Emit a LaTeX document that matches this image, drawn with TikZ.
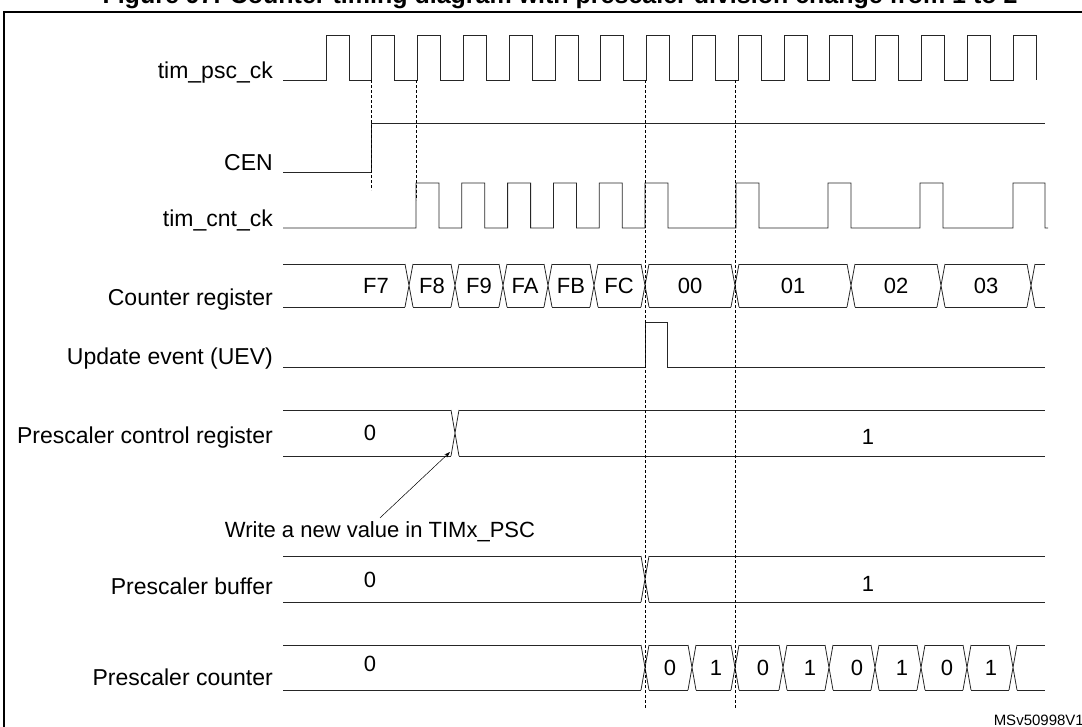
\documentclass[tikz,border=0pt]{standalone}
\usepackage{fontspec}
\setmainfont{Liberation Sans}
\usetikzlibrary{arrows.meta}
\begin{document}
\begin{tikzpicture}[x=1pt,y=-1pt,
  sig/.style={line width=0.8pt,draw=black!85},
  dsh/.style={densely dashed,line width=0.6pt},
  lab/.style={anchor=east,font=\fontsize{23}{26}\selectfont,inner sep=0pt},
  val/.style={font=\fontsize{22}{24}\selectfont,inner sep=0pt}]
\useasboundingbox (0,0) rectangle (1082,726);
\clip (0,0) rectangle (1082,726);
\node[font=\bfseries\fontsize{25}{28}\selectfont,anchor=base] (title) at (560,3) {Figure 97. Counter timing diagram with prescaler division change from 1 to 2};
\draw[line width=1.6pt] (4,740) -- (4,12) -- (1090,12);
% labels
\node[lab] (l1) at (273,73) {tim\_psc\_ck};
\node[lab] (l2) at (273,163) {CEN};
\node[lab] (l3) at (273,220) {tim\_cnt\_ck};
\node[lab] (l4) at (273,300) {Counter register};
\node[lab] (l5) at (273,359) {Update event (UEV)};
\node[lab] (l6) at (273,438) {Prescaler control register};
\node[lab] (l7) at (273,586) {Prescaler buffer};
\node[lab] (l8) at (273,677) {Prescaler counter};
% tim_psc_ck
\draw[sig] (283,80) foreach \i in {0,...,15} { -- ({326+45.8*\i},80) -- ({326+45.8*\i},35) -- ({349+45.8*\i},35) -- ({349+45.8*\i},80)} ;
% CEN
\draw[sig] (283,172) -- (371,172) -- (371,123) -- (1045,123);
% tim_cnt_ck
\draw[sig] (283,228) -- (416,228)
  foreach \r in {416,461.8,507.6,553.4,599.2} { -- (\r,183) -- ({\r+23},183) -- ({\r+23},228) -- ({\r+45.8},228)}
  -- (645,183) -- (668,183) -- (668,228) -- (736,228) -- (736,183) -- (759,183) -- (759,228)
  -- (828,228) -- (828,183) -- (851,183) -- (851,228) -- (920,228) -- (920,183) -- (943,183) -- (943,228)
  -- (1013,228) -- (1013,183) -- (1045,183) -- (1045,228) -- (1048,228);
% bus helper
\newcommand{\busx}[3]{% x, top, bottom
  \draw[sig] ({#1-4},#2) -- ({#1+4},#3) ({#1-4},#3) -- ({#1+4},#2);}
% Counter register
\draw[sig] (283,264) -- (405,264) (283,307) -- (405,307);
\foreach \a/\b in {409/455,455/503,503/548,548/594,594/645,645/735,735/851,851/941,941/1031}
  {\draw[sig] ({\a+4},264) -- ({\b-4},264) ({\a+4},307) -- ({\b-4},307);}
\foreach \x in {409,455,503,548,594,645,735,851,941,1031} {\busx{\x}{264}{307}}
\draw[sig] (1035,264) -- (1045,264) (1035,307) -- (1045,307);
\foreach \t/\x in {F7/376,F8/432,F9/479,FA/525,FB/571,FC/619,00/690,01/793,02/896,03/986}
  {\node[val] at (\x,286) {\t};}
% UEV
\draw[sig] (283,367) -- (645,367) -- (645,322) -- (667,322) -- (667,367) -- (1045,367);
% PCR
\draw[sig] (283,410) -- (451,410) (283,456) -- (451,456) (459,410) -- (1045,410) (459,456) -- (1045,456);
\busx{455}{410}{456}
\node[val] (p0) at (370,433) {0};
\node[val] (p1) at (868,437) {1};
\node[val,anchor=base] (wr) at (380,537) {Write a new value in TIMx\_PSC};
\coordinate (wt) at (450,452);
\draw[-{Stealth[length=6pt,width=4pt]},line width=0.5pt] (wr.north) ++(0,-3) coordinate (ws) (ws) -- (wt);
% Prescaler buffer
\draw[sig] (283,556) -- (641,556) (283,602) -- (641,602) (649,556) -- (1045,556) (649,602) -- (1045,602);
\busx{645}{556}{602}
\node[val] at (370,580) {0};
\node[val] at (868,584) {1};
% Prescaler counter
\draw[sig] (283,645) -- (641,645) (283,690) -- (641,690);
\foreach \a/\b in {645/692,692/735,735/783,783/829,829/875,875/921,921/967,967/1013}
  {\draw[sig] ({\a+4},645) -- ({\b-4},645) ({\a+4},690) -- ({\b-4},690);}
\foreach \x in {645,692,735,783,829,875,921,967,1013} {\busx{\x}{645}{690}}
\draw[sig] (1017,645) -- (1045,645) (1017,690) -- (1045,690);
\node[val] at (370,664) {0};
\foreach \t/\x in {0/670,1/716,0/763,1/810,0/857,1/902,0/947,1/991} {\node[val] at (\x,668) {\t};}
% dashed
\draw[dsh] (371,80) -- (371,190);
\draw[dsh] (416,80) -- (416,200);
\draw[dsh] (645,80) -- (645,708);
\draw[dsh] (735,80) -- (735,708);
\node[font=\fontsize{15}{17}\selectfont,anchor=east,inner sep=0pt] (ms) at (1084,720) {MSv50998V1};
\end{tikzpicture}
\end{document}
